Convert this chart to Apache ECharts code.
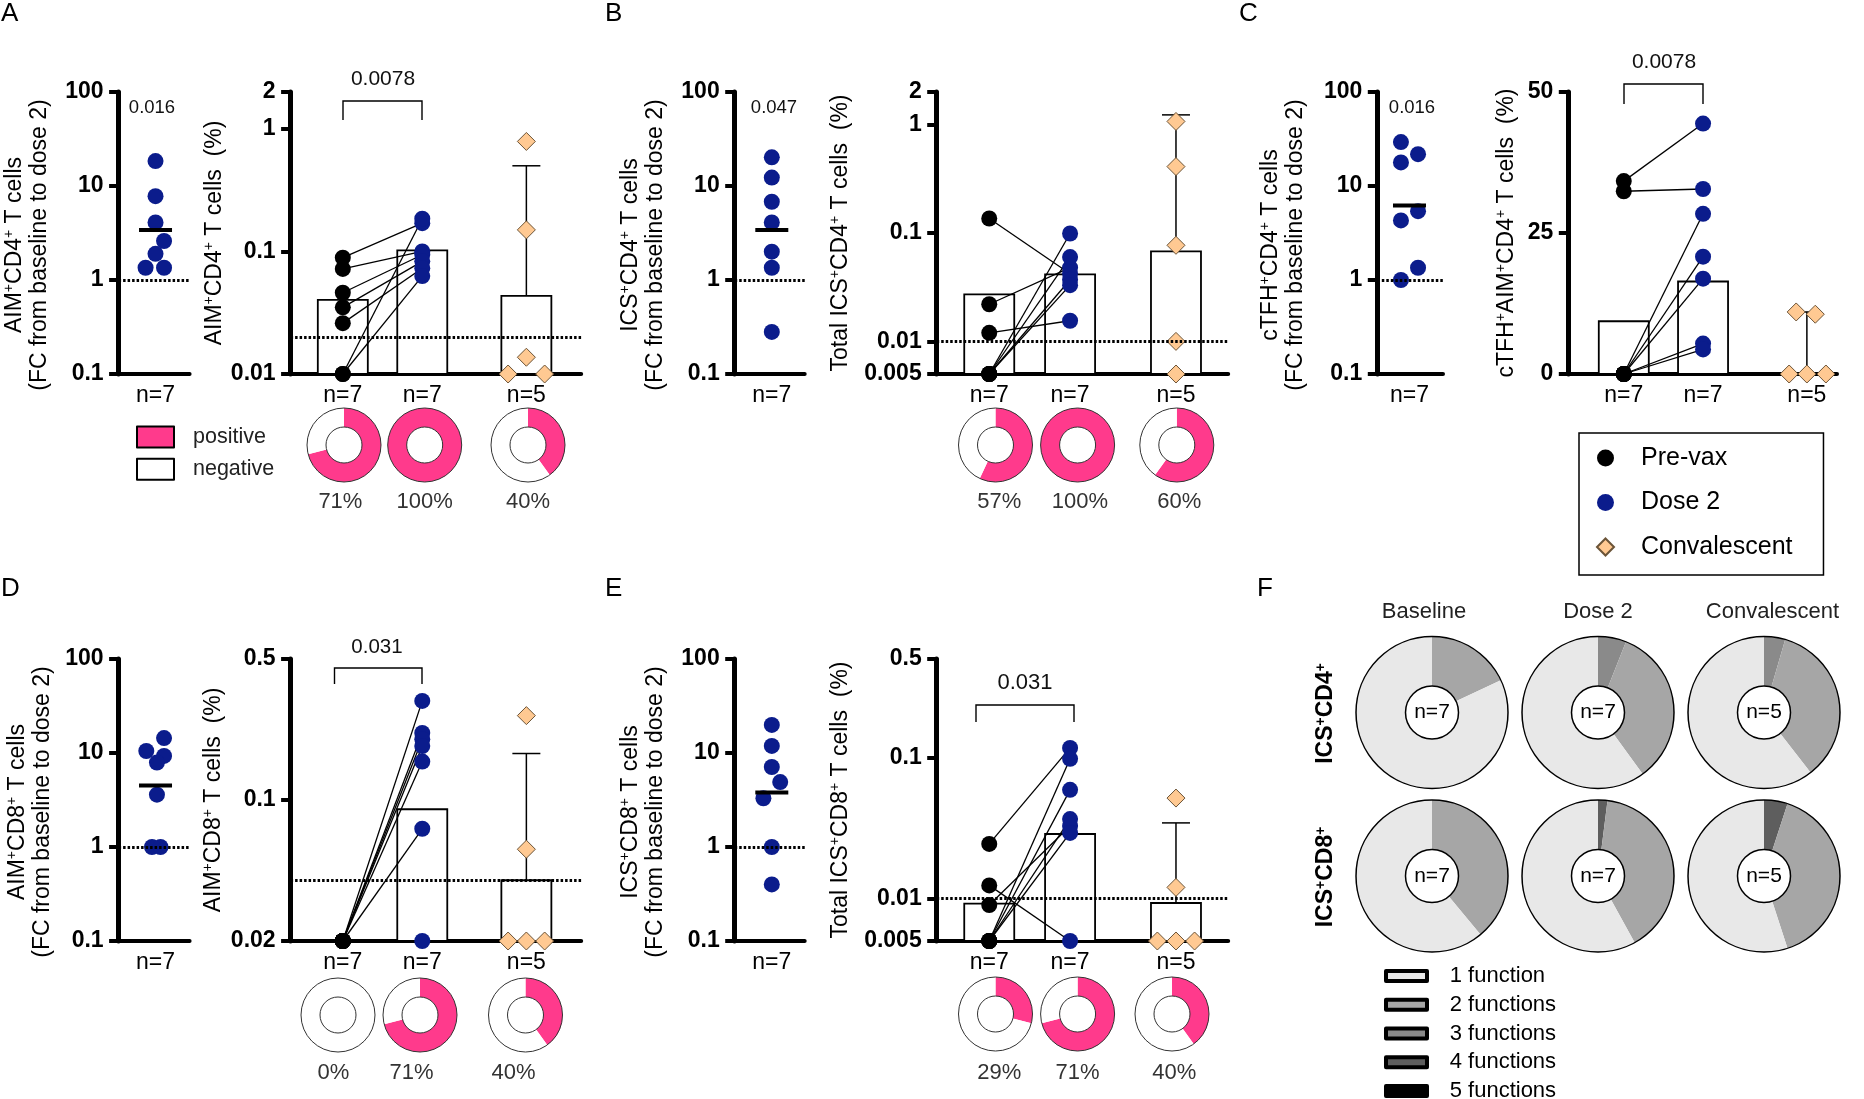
<!DOCTYPE html>
<html><head><meta charset="utf-8">
<script src="https://cdn.jsdelivr.net/npm/echarts@6.0.0/dist/echarts.min.js"></script>
<style>html,body{margin:0;padding:0;background:#fff}#main{width:1864px;height:1099px}</style>
</head><body><div id="main"></div>
<script>
// ================= DATA =================
const groupNames = ['Pre-vax', 'Dose 2', 'Convalescent'];
const fcNLabel = ['n=7'];
const fcLimit = [1];

// Panel A – AIM+CD4+
const aFcValues = [18.4, 7.8, 4.1, 2.6, 1.9, 1.35, 1.35];
const aFcJitter = [0, 0, 0, 0.12, 0, -0.14, 0.12];
const aFcMean = [3.4];
const aFcP = '0.016';
const aPreVax = [0.089, 0.072, 0.046, 0.035, 0.026, 0.01, 0.01];
const aDose2 = [0.17, 0.1, 0.094, 0.083, 0.073, 0.185, 0.063];
const aConv = [0.79, 0.15, 0.0137, 0.01, 0.01];
const aConvJitter = [0, 0, 0, -0.23, 0.23];
const aBarHeights = [0.0403, 0.102, 0.0434];
const aConvErrorTop = [0.5];
const aLimit = [0.02];
const aGroupN = ['n=7', 'n=7', 'n=5'];
const aPairP = '0.0078';
const aPositivePct = [71, 100, 40];

// Panel B – ICS+CD4+
const bFcValues = [20.2, 12.3, 6.8, 4.1, 2.0, 1.35, 0.28];
const bFcJitter = [0, 0, 0, 0, 0, 0, 0];
const bFcMean = [3.4];
const bFcP = '0.047';
const bPreVax = [0.136, 0.022, 0.012, 0.005, 0.005, 0.005, 0.005];
const bDose2 = [0.042, 0.048, 0.0155, 0.099, 0.06, 0.037, 0.033];
const bConv = [1.07, 0.41, 0.077, 0.01, 0.005];
const bConvJitter = [0, 0, 0, 0, 0];
const bBarHeights = [0.0272, 0.0416, 0.0676];
const bConvErrorTop = [1.23];
const bLimit = [0.01];
const bGroupN = ['n=7', 'n=7', 'n=5'];
const bPositivePct = [57, 100, 60];

// Panel C – cTFH+AIM+CD4+
const cFcValues = [29.3, 21.8, 17.8, 5.4, 4.3, 1.35, 1.0];
const cFcJitter = [-0.13, 0.13, -0.13, 0.13, -0.13, 0.13, -0.13];
const cFcMean = [6.2];
const cFcP = '0.016';
const cPreVax = [34.2, 32.4, 0, 0, 0, 0, 0];
const cDose2 = [44.4, 32.8, 28.4, 20.8, 16.9, 5.4, 4.35];
const cConv = [11.0, 10.6, 0, 0, 0];
const cConvJitter = [-0.135, 0.106, -0.224, 0, 0.24];
const cBarHeights = [9.35, 16.4, 0];
const cConvErrorTop = [11.0];
const cGroupN = ['n=7', 'n=7', 'n=5'];
const cPairP = '0.0078';

// Panel D – AIM+CD8+
const dFcValues = [14.4, 10.5, 9.3, 7.9, 3.6, 1.0, 1.0];
const dFcJitter = [0.12, -0.13, 0.12, 0.02, 0.02, -0.05, 0.07];
const dFcMean = [4.5];
const dPreVax = [0.02, 0.02, 0.02, 0.02, 0.02, 0.02, 0.02];
const dDose2 = [0.31, 0.215, 0.2, 0.185, 0.155, 0.072, 0.02];
const dConv = [0.262, 0.057, 0.02, 0.02, 0.02];
const dConvJitter = [0, 0, -0.23, 0, 0.23];
const dBarHeights = [0.02, 0.09, 0.04];
const dConvErrorTop = [0.17];
const dLimit = [0.04];
const dGroupN = ['n=7', 'n=7', 'n=5'];
const dPairP = '0.031';
const dPositivePct = [0, 71, 40];

// Panel E – ICS+CD8+
const eFcValues = [19.9, 11.9, 7.1, 4.9, 3.3, 1.0, 0.4];
const eFcJitter = [0, 0, 0, 0.12, -0.12, 0, 0];
const eFcMean = [3.8];
const ePreVax = [0.0244, 0.0124, 0.009, 0.005, 0.005, 0.005, 0.005];
const eDose2 = [0.117, 0.005, 0.0327, 0.098, 0.059, 0.0366, 0.0292];
const eConv = [0.0516, 0.012, 0.005, 0.005, 0.005];
const eConvJitter = [0, 0, -0.23, 0, 0.23];
const eBarHeights = [0.0092, 0.0287, 0.0093];
const eConvErrorTop = [0.0344];
const eLimit = [0.01];
const eGroupN = ['n=7', 'n=7', 'n=5'];
const ePairP = '0.031';
const ePositivePct = [29, 71, 40];

// Panel F – polyfunctionality (percent of responders with 1..5 functions)
const fHeaders = ['Baseline', 'Dose 2', 'Convalescent'];
const fRowLabels = ['ICS{s|+}CD4{s|+}', 'ICS{s|+}CD8{s|+}'];
const fFunctionNames = ['1 function', '2 functions', '3 functions', '4 functions', '5 functions'];
const fCd4 = [[82, 18, 0, 0, 0], [60, 34, 6, 0, 0], [60.5, 35, 4.5, 0, 0]];
const fCd8 = [[61, 39, 0, 0, 0], [58, 40, 0, 2, 0], [55, 40, 0, 5, 0]];
const fN = [['n=7', 'n=7', 'n=5'], ['n=7', 'n=7', 'n=5']];

// ================= STYLE / LAYOUT =================
const FONT = '"Liberation Sans", Arial, Helvetica, sans-serif';
const NAVY = '#0b1c8c', PINK = '#ff3a8c', PEACH = '#ffc992';
const fColors = ['#e8e8e8', '#a6a6a6', '#8a8a8a', '#5e5e5e', '#000000'];
const groupX = [1, 2, 3.31];

const grid = [], xAxis = [], yAxis = [], series = [], graphic = [];

function numFmt(v) { return String(parseFloat(Number(v).toPrecision(3))); }
function makeGrid(b) { grid.push({left: b[0], top: b[1], width: b[2], height: b[3], containLabel: false}); return grid.length - 1; }
function addXAxis(gi, min, max, ticks, labels) {
  xAxis.push({gridIndex: gi, type: 'value', min, max,
    axisLine: {show: true, onZero: false, lineStyle: {color: '#000', width: 4}},
    axisTick: {show: false}, splitLine: {show: false},
    axisLabel: {customValues: ticks, margin: 10, fontSize: 23, color: '#000', fontFamily: FONT,
      formatter: v => { const i = ticks.findIndex(t => Math.abs(t - v) < 1e-6); return i >= 0 ? labels[i] : ''; }}
  });
}
function addYAxis(gi, type, min, max, title, gap, pad, interval) {
  const ax = {gridIndex: gi, type, min, max,
    axisLine: {show: true, onZero: false, lineStyle: {color: '#000', width: 5}},
    axisTick: {show: true, length: 9.5, lineStyle: {color: '#000', width: 4}},
    minorTick: {show: false}, splitLine: {show: false},
    axisLabel: {fontSize: 23, fontWeight: 'bold', color: '#000', fontFamily: FONT, margin: 15, formatter: numFmt},
    name: title, nameLocation: 'middle', nameRotate: 90, nameGap: gap,
    nameTextStyle: {fontSize: 23, lineHeight: 25, color: '#000', fontFamily: FONT, padding: pad,
      rich: {s: {fontSize: 14, lineHeight: 14, verticalAlign: 'top', color: '#000', fontFamily: FONT}}}
  };
  if (type === 'log') ax.logBase = 10;
  if (interval) ax.interval = interval;
  yAxis.push(ax);
}
function dotted(v) {
  return {silent: true, symbol: ['none', 'none'], label: {show: false}, animation: false,
    emphasis: {disabled: true}, lineStyle: {color: '#000', width: 3, type: [2.5, 2]}, data: [{yAxis: v}]};
}
function addText(text, pos, size, opts) {
  opts = opts || {};
  graphic.push(Object.assign({type: 'text', x: pos[0], y: pos[1], silent: true,
    style: {text, fill: opts.fill || '#111', fontSize: size, fontFamily: FONT,
      fontWeight: opts.weight || 'normal', align: opts.align || 'center',
      verticalAlign: opts.valign || 'middle', rich: opts.rich}}, opts.extra));
}
function addBracket(pts) {
  graphic.push({type: 'polyline', silent: true, shape: {points: pts}, style: {stroke: '#000', lineWidth: 1.4, fill: null}});
}
function addBars(gi, heights, base, width) {
  series.push({type: 'custom', coordinateSystem: 'cartesian2d', xAxisIndex: gi, yAxisIndex: gi, silent: true, z: 1,
    data: heights.map((h, i) => [groupX[i], h]), encode: {x: 0, y: 1},
    renderItem: (params, api) => {
      const top = api.coord([api.value(0), api.value(1)]);
      const bot = api.coord([api.value(0), base]);
      const h = bot[1] - top[1];
      if (h <= 0.5) return {type: 'group', children: []};
      return {type: 'rect', shape: {x: top[0] - width / 2, y: top[1], width, height: h},
        style: {fill: '#fff', stroke: '#000', lineWidth: 1.8}};
    }});
}
function addErr(gi, low, high, cap) {
  series.push({type: 'custom', coordinateSystem: 'cartesian2d', xAxisIndex: gi, yAxisIndex: gi, silent: true, z: 2,
    data: [[groupX[2], low, high]], encode: {x: 0, y: [1, 2]},
    renderItem: (params, api) => {
      const a = api.coord([api.value(0), api.value(1)]);
      const b = api.coord([api.value(0), api.value(2)]);
      return {type: 'group', children: [
        {type: 'line', shape: {x1: a[0], y1: a[1], x2: b[0], y2: b[1]}, style: {stroke: '#000', lineWidth: 1.5}},
        {type: 'line', shape: {x1: b[0] - cap / 2, y1: b[1], x2: b[0] + cap / 2, y2: b[1]}, style: {stroke: '#000', lineWidth: 1.5}}]};
    }});
}
function addDonut(center, pct, labelPos) {
  series.push({type: 'pie', center, radius: [18, 37], startAngle: 90, clockwise: true, silent: true, z: 2,
    label: {show: false}, labelLine: {show: false}, emphasis: {disabled: true},
    data: [{name: 'positive', value: pct, itemStyle: {color: PINK, borderWidth: 0}},
           {name: 'negative', value: 100 - pct, itemStyle: {color: '#fff', borderWidth: 0}}]});
  series.push({type: 'pie', center, radius: [18, 37], silent: true, z: 3, label: {show: false}, labelLine: {show: false},
    emphasis: {disabled: true},
    data: [{name: '', value: 1, itemStyle: {color: 'rgba(0,0,0,0)', borderColor: '#333', borderWidth: 1}}]});
  addText(pct + '%', labelPos, 22, {fill: '#333'});
}
function addFunctionPie(center, values, nLabel) {
  const order = [4, 3, 2, 1, 0];
  series.push({type: 'pie', center, radius: [26.5, 76], startAngle: 90, clockwise: true, silent: true, z: 2,
    label: {show: false}, labelLine: {show: false}, emphasis: {disabled: true},
    data: order.map(i => ({name: fFunctionNames[i], value: values[i], itemStyle: {color: fColors[i], borderWidth: 0}}))});
  series.push({type: 'pie', center, radius: [26.5, 76], silent: true, z: 3, labelLine: {show: false}, emphasis: {disabled: true},
    label: {show: true, position: 'center', formatter: nLabel, fontSize: 21, color: '#000', fontFamily: FONT},
    data: [{name: nLabel, value: 1, itemStyle: {color: 'rgba(0,0,0,0)', borderColor: '#000', borderWidth: 1.5}}]});
}

function buildPanel(P) {
  // ---- fold-change plot ----
  const f = P.fc;
  const gf = makeGrid(f.box);
  addXAxis(gf, 0, 1, [f.center], fcNLabel);
  addYAxis(gf, 'log', 0.1, 100, f.title, f.gap, [0, 24, 0, 0]);
  series.push({type: 'scatter', name: groupNames[1], xAxisIndex: gf, yAxisIndex: gf, clip: false, symbol: 'circle',
    symbolSize: 16, z: 4, itemStyle: {color: NAVY, opacity: 1}, emphasis: {disabled: true},
    data: f.vals.map((v, i) => [f.center + f.jit[i], v]), markLine: dotted(fcLimit[0])});
  series.push({type: 'scatter', xAxisIndex: gf, yAxisIndex: gf, clip: false, symbol: 'rect', symbolSize: [33, 4], z: 5,
    itemStyle: {color: '#000', opacity: 1}, emphasis: {disabled: true}, data: f.mean.map(m => [f.center, m])});
  if (f.p) addText(f.p, f.pPos, f.pSize);

  // ---- group plot ----
  const m = P.main;
  const gm = makeGrid(m.box);
  addXAxis(gm, m.xMin, m.xMax, groupX, m.n);
  addYAxis(gm, m.type, m.min, m.max, m.title, m.gap, [0, 0, 0, 0], m.interval);
  addBars(gm, m.bars, m.min, 50);
  addErr(gm, m.bars[2], m.err[0], 28);
  series.push({type: 'lines', coordinateSystem: 'cartesian2d', xAxisIndex: gm, yAxisIndex: gm, silent: true, z: 3,
    data: m.pre.map((v, i) => ({coords: [[groupX[0], v], [groupX[1], m.dose2[i]]]})),
    lineStyle: {color: '#000', width: 1.3, opacity: 1, curveness: 0}});
  const pre = {type: 'scatter', name: groupNames[0], xAxisIndex: gm, yAxisIndex: gm, clip: false, symbol: 'circle',
    symbolSize: 16, z: 4, itemStyle: {color: '#000', opacity: 1}, emphasis: {disabled: true}, data: m.pre.map(v => [groupX[0], v])};
  if (m.limit) pre.markLine = dotted(m.limit[0]);
  series.push(pre);
  series.push({type: 'scatter', name: groupNames[1], xAxisIndex: gm, yAxisIndex: gm, clip: false, symbol: 'circle',
    symbolSize: 16, z: 4, itemStyle: {color: NAVY, opacity: 1}, emphasis: {disabled: true}, data: m.dose2.map(v => [groupX[1], v])});
  series.push({type: 'scatter', name: groupNames[2], xAxisIndex: gm, yAxisIndex: gm, clip: false, symbol: 'diamond',
    symbolSize: 18, z: 4, itemStyle: {color: PEACH, borderColor: '#6b5438', borderWidth: 1, opacity: 1}, emphasis: {disabled: true},
    data: m.conv.map((v, i) => [groupX[2] + m.convJit[i], v])});
  if (m.p) { addText(m.p, m.pPos, m.pSize); addBracket(m.bracket); }

  // ---- donuts ----
  if (P.donuts) P.donuts.pct.forEach((p, i) => addDonut(P.donuts.centers[i], p, P.donuts.labels[i]));
  addText(P.key, P.letterPos, 26, {fill: '#000', align: 'left', valign: 'top'});
}

const panels = [
  {key: 'A', letterPos: [1, 1],
   fc: {box: [118.6, 92, 71, 282], vals: aFcValues, jit: aFcJitter, mean: aFcMean, p: aFcP, pPos: [152, 108], pSize: 18.5, center: 0.52,
        title: 'AIM{s|+}CD4{s|+} T cells\n(FC from baseline to dose 2)', gap: 66},
   main: {box: [290.6, 92, 290.6, 282], type: 'log', min: 0.01, max: 2, xMin: 0.343, xMax: 4.0, pre: aPreVax, dose2: aDose2,
          conv: aConv, convJit: aConvJitter, bars: aBarHeights, err: aConvErrorTop, limit: aLimit, n: aGroupN,
          title: 'AIM{s|+}CD4{s|+} T cells  (%)', gap: 54, p: aPairP, pPos: [383, 79], pSize: 21,
          bracket: [[343, 120], [343, 101], [422, 101], [422, 120]]},
   donuts: {pct: aPositivePct, centers: [[344, 445], [424.7, 445], [528, 445]], labels: [[340.4, 502], [424.7, 502], [528, 502]]}},
  {key: 'B', letterPos: [605, 1],
   fc: {box: [734.7, 92, 70, 282], vals: bFcValues, jit: bFcJitter, mean: bFcMean, p: bFcP, pPos: [774, 108], pSize: 18.5, center: 0.53,
        title: 'ICS{s|+}CD4{s|+} T cells\n(FC from baseline to dose 2)', gap: 66.5},
   main: {box: [936.7, 92, 291.5, 282], type: 'log', min: 0.005, max: 2, xMin: 0.35, xMax: 3.956, pre: bPreVax, dose2: bDose2,
          conv: bConv, convJit: bConvJitter, bars: bBarHeights, err: bConvErrorTop, limit: bLimit, n: bGroupN,
          title: 'Total ICS{s|+}CD4{s|+} T cells  (%)', gap: 84},
   donuts: {pct: bPositivePct, centers: [[995.5, 445], [1077.6, 445], [1176.8, 445]], labels: [[999.2, 502], [1080, 502], [1179.2, 502]]}},
  {key: 'C', letterPos: [1239, 1],
   fc: {box: [1377.3, 92, 65.7, 282], vals: cFcValues, jit: cFcJitter, mean: cFcMean, p: cFcP, pPos: [1412, 108], pSize: 18.5, center: 0.49,
        title: 'cTFH{s|+}CD4{s|+} T cells\n(FC from baseline to dose 2)', gap: 69},
   main: {box: [1568.3, 92, 268.7, 282], type: 'value', min: 0, max: 50, interval: 25, xMin: 0.30, xMax: 3.69, pre: cPreVax, dose2: cDose2,
          conv: cConv, convJit: cConvJitter, bars: cBarHeights, err: cConvErrorTop, n: cGroupN,
          title: 'cTFH{s|+}AIM{s|+}CD4{s|+} T cells  (%)', gap: 49, p: cPairP, pPos: [1664, 62], pSize: 21,
          bracket: [[1624, 104], [1624, 84], [1703, 84], [1703, 104]]}},
  {key: 'D', letterPos: [1, 576],
   fc: {box: [118.6, 659, 71, 282], vals: dFcValues, jit: dFcJitter, mean: dFcMean, center: 0.52,
        title: 'AIM{s|+}CD8{s|+} T cells\n(FC from baseline to dose 2)', gap: 63.4},
   main: {box: [290.6, 659, 290.6, 282], type: 'log', min: 0.02, max: 0.5, xMin: 0.343, xMax: 4.0, pre: dPreVax, dose2: dDose2,
          conv: dConv, convJit: dConvJitter, bars: dBarHeights, err: dConvErrorTop, limit: dLimit, n: dGroupN,
          title: 'AIM{s|+}CD8{s|+} T cells  (%)', gap: 64.6, p: dPairP, pPos: [377, 647], pSize: 20.5,
          bracket: [[334.5, 684], [334.5, 668], [422, 668], [422, 684]]},
   donuts: {pct: dPositivePct, centers: [[338, 1015], [420, 1015], [525.5, 1015]], labels: [[333.3, 1073], [411.6, 1073], [513.6, 1073]]}},
  {key: 'E', letterPos: [605, 576],
   fc: {box: [734.7, 659, 70, 282], vals: eFcValues, jit: eFcJitter, mean: eFcMean, center: 0.53,
        title: 'ICS{s|+}CD8{s|+} T cells\n(FC from baseline to dose 2)', gap: 66.5},
   main: {box: [936.7, 659, 291.5, 282], type: 'log', min: 0.005, max: 0.5, xMin: 0.35, xMax: 3.956, pre: ePreVax, dose2: eDose2,
          conv: eConv, convJit: eConvJitter, bars: eBarHeights, err: eConvErrorTop, limit: eLimit, n: eGroupN,
          title: 'Total ICS{s|+}CD8{s|+} T cells  (%)', gap: 84, p: ePairP, pPos: [1025, 683], pSize: 22,
          bracket: [[976, 722], [976, 705], [1074, 705], [1074, 722]]},
   donuts: {pct: ePositivePct, centers: [[995.5, 1014], [1077.6, 1014], [1172, 1014]], labels: [[999.2, 1073], [1077.6, 1073], [1174.3, 1073]]}}
];
panels.forEach(buildPanel);

// ---- Panel F ----
addText('F', [1257, 576], 26, {fill: '#000', align: 'left', valign: 'top'});
const fColX = [1432, 1598, 1764], fRowY = [712.5, 876], fHeadX = [1424, 1598, 1772.5];
fHeaders.forEach((h, i) => addText(h, [fHeadX[i], 612], 22, {fill: '#222'}));
fRowLabels.forEach((t, r) => addText(t, [1326, fRowY[r] + 1], 23, {fill: '#000', weight: 'bold',
  rich: {s: {fontSize: 14, lineHeight: 14, verticalAlign: 'top', fontWeight: 'bold', fontFamily: FONT, fill: '#000'}},
  extra: {rotation: Math.PI / 2}}));
[fCd4, fCd8].forEach((row, r) => row.forEach((vals, c) => addFunctionPie([fColX[c], fRowY[r]], vals, fN[r][c])));

const chart = echarts.init(document.getElementById('main'), null, {renderer: 'canvas'});
chart.setOption({
  animation: false,
  backgroundColor: '#fff',
  textStyle: {fontFamily: FONT},
  grid, xAxis, yAxis, series, graphic,
  legend: [
    {data: groupNames, orient: 'vertical', left: 1579, top: 433, padding: [12.5, 31, 15.5, 17], itemWidth: 17, itemHeight: 17,
     itemGap: 19.5, borderColor: '#000', borderWidth: 1.5, backgroundColor: '#fff', selectedMode: false,
     textStyle: {fontSize: 25, color: '#000', fontFamily: FONT, padding: [0, 0, 0, 22]}},
    {data: ['positive', 'negative'], orient: 'vertical', left: 136, top: 425.5, padding: 0, itemWidth: 37, itemHeight: 21,
     itemGap: 9.3, icon: 'rect', selectedMode: false, itemStyle: {borderColor: '#000', borderWidth: 2},
     textStyle: {fontSize: 21.5, color: '#222', fontFamily: FONT, padding: [0, 0, 0, 14]}},
    {data: fFunctionNames, orient: 'vertical', left: 1384, top: 965, height: 200, padding: 0, itemWidth: 41, itemHeight: 10,
     itemGap: 6.75, icon: 'rect', selectedMode: false, itemStyle: {borderColor: '#000', borderWidth: 4},
     textStyle: {fontSize: 22, color: '#000', fontFamily: FONT, padding: [0, 0, 0, 17.7]}}
  ]
});
</script></body></html>
